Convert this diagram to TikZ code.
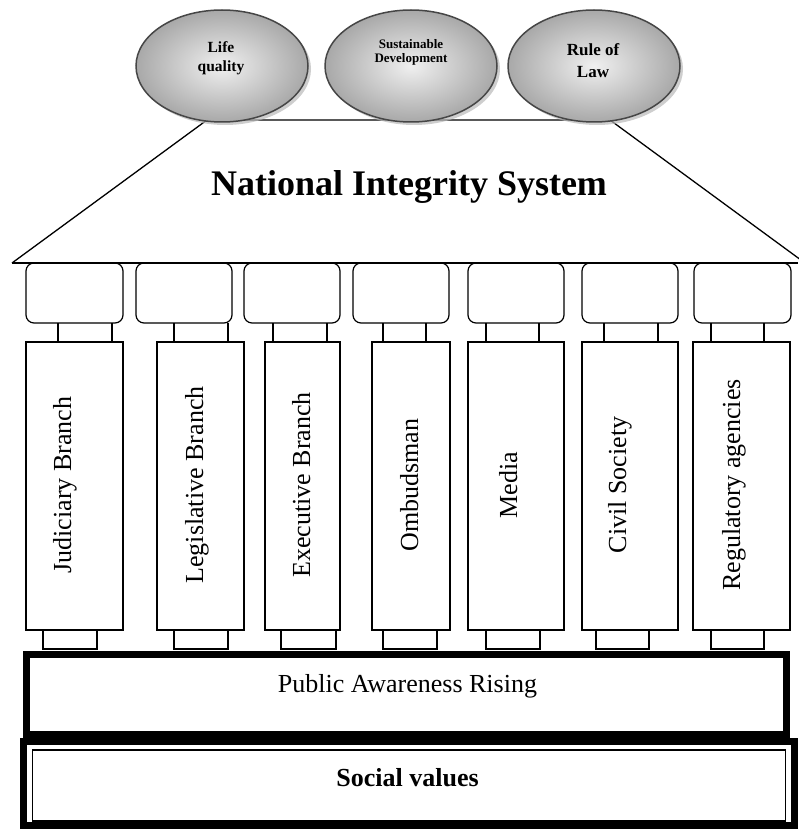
\documentclass[tikz,border=0pt]{standalone}
\usepackage{fontspec}
\setmainfont{Liberation Serif}
\usetikzlibrary{shapes.geometric,shadows}
\begin{document}
\begin{tikzpicture}[x=1pt,y=-1pt,
  ln/.style={line width=1.3pt},
  capbox/.style={draw, line width=1.2pt, rounded corners=8pt},
  part/.style={draw, line width=1.2pt},
  orb/.style={ellipse, draw=gray!55!black, line width=1.5pt,
    minimum width=172pt, minimum height=112pt, inner sep=0pt,
    inner color=gray!12, outer color=gray!68,
    drop shadow={shadow xshift=3pt, shadow yshift=-3pt, fill=gray!55, opacity=0.7}},
  orbtext/.style={align=center, inner sep=0pt},
  pillar/.style={rotate=90, anchor=base, font=\fontsize{26}{30}\selectfont, inner sep=0pt}]
\useasboundingbox (0,0) rectangle (798,829);

% roof (trapezoid)
\coordinate (rtl) at (207,120);
\coordinate (rtr) at (610,120);
\coordinate (rbl) at (12,263);
\coordinate (rbr) at (805,263);
\draw[ln] (rbl) -- (rtl) -- (rtr) -- (rbr);
\draw[ln] (rbl) -- (798,263);
\node[font=\bfseries\fontsize{36}{40}\selectfont, anchor=base, inner sep=0pt] (title) at (409,195) {National Integrity System};

% goals (ellipses)
\node[orb] (e1) at (222,66) {};
\node[orb] (e2) at (411,66) {};
\node[orb] (e3) at (594,66) {};
\node[orbtext, font=\bfseries\fontsize{15.5}{19}\selectfont] (t1) at (221,58) {Life\\quality};
\node[orbtext, font=\bfseries\fontsize{13}{13.5}\selectfont] (t2) at (411,52.5) {Sustainable\\Development};
\node[orbtext, font=\bfseries\fontsize{17}{22}\selectfont] (t3) at (593,61) {Rule of\\Law};

% pillars
\foreach \ca/\cb/\na/\nb/\pa/\pb/\fa/\fb in {
  26/123/58/112/26/123/43/97,
  136/232/174/228/157/244/174/228,
  244/340/273/327/265/340/281/336,
  353/449/383/426/372/450/383/437,
  468/564/486/539/468/564/486/540,
  582/678/604/658/582/678/596/649,
  694/791/711/764/693/790/711/764}{
  \draw[capbox] (\ca,263) rectangle (\cb,323);
  \draw[part] (\na,323) -- (\na,342) (\nb,323) -- (\nb,342);
  \draw[part] (\pa,342) rectangle (\pb,630);
  \draw[part] (\fa,630) rectangle (\fb,649);
}
\node[pillar] (p1) at (71,485) {Judiciary Branch};
\node[pillar] (p2) at (203,485) {Legislative Branch};
\node[pillar] (p3) at (310,485) {Executive Branch};
\node[pillar] (p4) at (418,485) {Ombudsman};
\node[pillar] (p5) at (517,485) {Media};
\node[pillar] (p6) at (626,485) {Civil Society};
\node[pillar] (p7) at (740,485) {Regulatory agencies};

% foundations
\draw[line width=7pt] (26.5,654) rectangle (786.5,734.5);
\node[anchor=base, font=\fontsize{26}{30}\selectfont, inner sep=0pt] (pa) at (407.5,692) {Public Awareness Rising};
\draw[line width=7pt] (23.5,741.5) rectangle (794.5,825.5);
\draw[line width=1.5pt] (32.5,750) rectangle (785.5,821);
\node[anchor=base, font=\bfseries\fontsize{26}{30}\selectfont, inner sep=0pt] (sv) at (407.5,786) {Social values};
\end{tikzpicture}
\end{document}
